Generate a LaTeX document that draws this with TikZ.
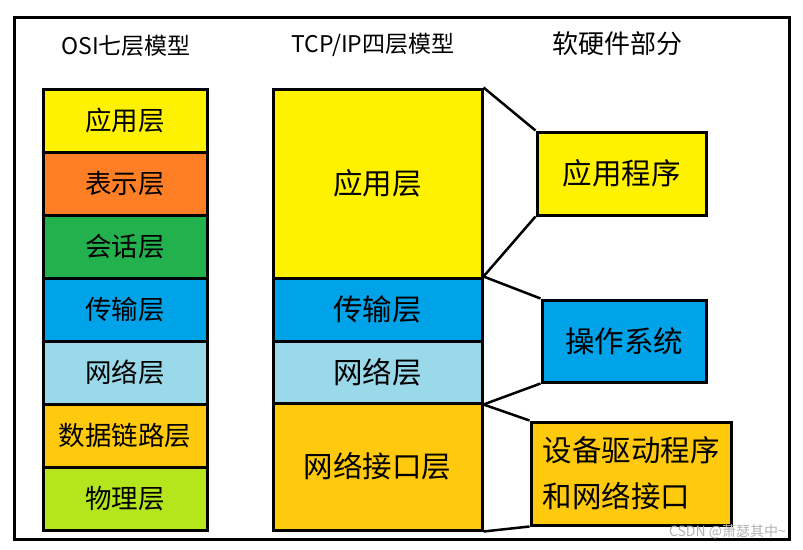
\documentclass[tikz,border=0pt]{standalone}
\usepackage{fontspec}
\setmainfont{Noto Sans CJK SC}
\usepackage{tikz}
\usetikzlibrary{positioning}

\definecolor{lyellow}{RGB}{255,242,0}
\definecolor{lorange}{RGB}{255,127,39}
\definecolor{lgreen}{RGB}{34,177,76}
\definecolor{lblue}{RGB}{0,162,232}
\definecolor{lsky}{RGB}{153,217,234}
\definecolor{lgold}{RGB}{255,201,14}
\definecolor{llime}{RGB}{181,230,29}

\begin{document}
\begin{tikzpicture}[
  x=1pt, y=-1pt,
  osi/.style  = {draw=black, line width=3pt, minimum width=164pt,
                 minimum height=63pt, inner sep=0pt,
                 font=\fontsize{26.5}{30}\selectfont},
  tcp/.style  = {osi, minimum width=209pt, font=\fontsize{29.5}{34}\selectfont},
  part/.style = {draw=black, line width=3pt, inner sep=0pt, align=left,
                 font=\fontsize{29.5}{46}\selectfont},
  hdr/.style  = {font=\fontsize{23}{28}\selectfont, inner sep=0pt},
  lnk/.style  = {draw=black, line width=2.5pt},
]
  \useasboundingbox (0,0) rectangle (803,549);

  % ---- outer frame ------------------------------------------
  \draw[line width=3pt] (14,17) rectangle (789,539);

  % ---- headings ---------------------------------------------
  \node[hdr] (hosi) at (126, 46) {OSI七层模型};
  \node[hdr] (htcp) at (373, 45) {TCP/IP四层模型};
  \node[hdr, font=\fontsize{26}{30}\selectfont] (hpart) at (617, 44) {软硬件部分};

  % ---- OSI seven layers -------------------------------------
  \node[osi, fill=lyellow] (oapp)  at (125, 120.5) {应用层};
  \node[osi, fill=lorange] (opres) at (125, 183.5) {表示层};
  \node[osi, fill=lgreen]  (osess) at (125, 246.5) {会话层};
  \node[osi, fill=lblue]   (otran) at (125, 309.5) {传输层};
  \node[osi, fill=lsky]    (onet)  at (125, 372.5) {网络层};
  \node[osi, fill=lgold]   (odata) at (125, 435.5) {数据链路层};
  \node[osi, fill=llime]   (ophys) at (125, 498.5) {物理层};

  % ---- TCP/IP four layers -----------------------------------
  \node[tcp, fill=lyellow, minimum height=189pt] (tapp)  at (377.5, 183.5) {应用层};
  \node[tcp, fill=lblue]                         (ttran) at (377.5, 309.5) {传输层};
  \node[tcp, fill=lsky, minimum height=62pt]     (tnet)  at (377.5, 372)   {网络层};
  \node[tcp, fill=lgold, minimum height=127pt]   (tlink) at (377.5, 466.5) {网络接口层};

  % ---- software and hardware --------------------------------
  \node[part, fill=lyellow, minimum width=169pt, minimum height=83pt]
        (prog) at (621.5, 173.5) {应用程序};
  \node[part, fill=lblue, minimum width=164pt, minimum height=82pt]
        (os)   at (624, 341) {操作系统};
  \node[part, fill=lgold, minimum width=200pt, minimum height=103pt]
        (drv)  at (631, 473.5) {设备驱动程序\\和网络接口};

  % ---- connectors -------------------------------------------
  \draw[lnk] (tapp.north east)  -- (prog.north west);
  \draw[lnk] ([yshift=3pt]tapp.south east) -- (prog.south west);
  \draw[lnk] (ttran.north east) -- (os.north west);
  \draw[lnk] (tnet.south east)  -- (os.south west);
  \draw[lnk] (tnet.south east)  -- (drv.north west);
  \draw[lnk] (tlink.south east) -- (drv.south west);

  % ---- watermark --------------------------------------------
  \node[anchor=east, text=black!30, inner sep=0pt,
        font=\fontsize{14}{16}\selectfont] (wm) at (786, 532) {CSDN @萧瑟其中\textasciitilde};

\end{tikzpicture}
\end{document}
